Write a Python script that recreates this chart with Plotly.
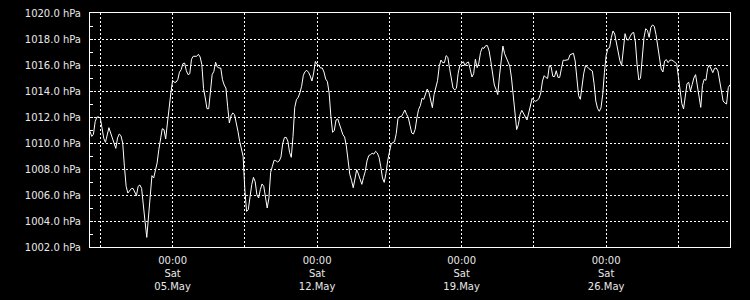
import pandas as pd
import plotly.graph_objects as go

# time axis: 2-hourly samples, 01.May 2018 00:00 .. 01.June 2018 00:00
start_time = "2018-05-01 00:00"
step = "2h"

# pressure readings (hPa), in chronological chunks
pressure_may01_05 = [
    1010.90, 1010.51, 1010.67, 1011.64, 1012.00, 1012.00, 1011.92, 1011.15, 1010.36, 1010.05,
    1010.72, 1011.18, 1010.77, 1010.31, 1009.87, 1009.59, 1010.38, 1010.69, 1010.56, 1010.00,
    1008.21, 1006.67, 1006.15, 1006.33, 1006.49, 1006.51, 1006.21, 1005.95, 1006.67, 1006.77,
    1006.51, 1004.97, 1003.95, 1002.74, 1004.36, 1005.90, 1007.49, 1007.31, 1008.00, 1008.46,
    1009.49, 1010.51, 1011.10, 1011.03, 1010.31, 1011.54, 1012.90, 1013.85, 1014.82, 1014.67,
    1014.67, 1014.87, 1015.44, 1015.64, 1016.10, 1016.15, 1015.56, 1015.26, 1015.33, 1016.44,
    1016.67, 1016.67,
]
pressure_may06_10 = [
    1016.67, 1016.82, 1016.62, 1016.03, 1014.18, 1013.46, 1012.64, 1012.64, 1013.85, 1015.26,
    1015.51, 1016.21, 1015.85, 1015.77, 1015.77, 1014.87, 1014.46, 1014.23, 1012.82, 1011.54,
    1012.10, 1012.31, 1012.18, 1011.59, 1010.90, 1010.13, 1009.49, 1008.97, 1006.41, 1004.74,
    1004.87, 1005.95, 1006.79, 1007.36, 1007.03, 1006.03, 1005.77, 1006.41, 1006.85, 1006.67,
    1005.90, 1005.00, 1005.77, 1007.74, 1008.21, 1008.67, 1008.64, 1008.54, 1008.62, 1008.92,
    1009.95, 1010.41, 1010.44, 1010.15, 1009.28, 1008.90, 1010.51, 1012.74, 1013.33, 1013.51,
    1013.85, 1014.36,
]
pressure_may11_15 = [
    1015.21, 1015.49, 1015.59, 1015.44, 1015.15, 1014.77, 1015.38, 1016.28, 1016.05, 1015.97,
    1015.77, 1015.77, 1015.46, 1014.92, 1014.72, 1013.85, 1012.05, 1010.82, 1010.97, 1011.77,
    1011.85, 1011.38, 1010.97, 1010.64, 1010.46, 1009.77, 1008.69, 1007.59, 1007.13, 1006.56,
    1007.23, 1007.95, 1007.62, 1007.23, 1006.82, 1007.36, 1007.82, 1008.62, 1009.03, 1009.10,
    1009.21, 1009.15, 1009.36, 1009.23, 1008.90, 1008.18, 1007.31, 1006.97, 1007.64, 1008.62,
    1009.36, 1009.92, 1010.03, 1010.10, 1010.72, 1011.87, 1012.03, 1012.03, 1012.26, 1012.54,
    1012.21, 1011.97,
]
pressure_may16_20 = [
    1011.36, 1010.77, 1010.69, 1011.05, 1011.92, 1012.59, 1012.87, 1013.44, 1013.36, 1013.72,
    1014.15, 1013.90, 1013.26, 1012.72, 1013.74, 1014.18, 1014.79, 1015.90, 1016.38, 1016.18,
    1016.18, 1016.72, 1016.59, 1015.74, 1014.92, 1014.23, 1014.08, 1014.21, 1015.36, 1015.97,
    1016.13, 1016.26, 1015.95, 1016.18, 1016.23, 1015.74, 1015.08, 1015.33, 1016.44, 1015.79,
    1016.15, 1016.97, 1017.33, 1017.28, 1017.49, 1017.49, 1017.08, 1016.26, 1015.15, 1014.46,
    1014.13, 1013.72, 1015.15, 1016.56, 1017.46, 1016.87, 1016.54, 1016.33, 1015.92, 1015.00,
    1013.69, 1012.49,
]
pressure_may21_26 = [
    1011.03, 1011.41, 1012.21, 1012.51, 1012.28, 1012.00, 1011.77, 1012.31, 1012.97, 1013.44,
    1013.28, 1013.21, 1013.28, 1013.44, 1013.85, 1014.77, 1015.18, 1015.03, 1014.97, 1015.95,
    1015.87, 1015.13, 1015.10, 1015.56, 1015.05, 1015.05, 1015.72, 1016.36, 1016.36, 1016.36,
    1016.41, 1016.79, 1016.82, 1016.90, 1016.31, 1014.82, 1013.64, 1013.36, 1014.38, 1015.36,
    1015.95, 1015.87, 1015.72, 1015.64, 1015.54, 1014.56, 1013.23, 1012.67, 1012.44, 1012.69,
    1013.72, 1015.41, 1016.72, 1017.26, 1017.33, 1018.10, 1018.62, 1018.38, 1017.69, 1016.97,
    1016.33, 1015.97,
]
pressure_may26_31 = [
    1017.31, 1018.41, 1017.95, 1017.92, 1018.21, 1018.44, 1018.51, 1017.77, 1016.03, 1014.85,
    1015.00, 1016.85, 1018.10, 1018.79, 1018.67, 1018.13, 1018.90, 1019.08, 1018.97, 1018.33,
    1017.38, 1016.28, 1015.69, 1015.46, 1016.31, 1016.41, 1016.18, 1016.36, 1016.38, 1016.31,
    1016.18, 1016.10, 1015.10, 1014.03, 1013.03, 1012.62, 1013.54, 1014.56, 1014.67, 1014.00,
    1014.49, 1015.00, 1015.26, 1014.28, 1013.67, 1012.74, 1014.44, 1014.90, 1014.82, 1015.74,
    1016.00, 1015.64, 1015.41, 1015.74, 1015.77, 1015.54, 1014.74, 1013.77, 1013.23, 1013.08,
    1013.00, 1014.26, 1014.49,
]

# axis ticks
grid_times = ["2018-05-01 12:00", "2018-05-05 00:00", "2018-05-08 12:00", "2018-05-12 00:00",
              "2018-05-15 12:00", "2018-05-19 00:00", "2018-05-22 12:00", "2018-05-26 00:00",
              "2018-05-29 12:00"]
grid_labels = ["", "00:00<br>Sat<br>05.May", "", "00:00<br>Sat<br>12.May", "",
               "00:00<br>Sat<br>19.May", "", "00:00<br>Sat<br>26.May", ""]
y_ticks = [1002, 1004, 1006, 1008, 1010, 1012, 1014, 1016, 1018, 1020]
y_labels = [f"{v:.1f} hPa" for v in y_ticks]
x_range = ["2018-05-01 00:00", "2018-06-01 00:00"]
y_range = [1002, 1020]

pressure = (pressure_may01_05 + pressure_may06_10 + pressure_may11_15 +
            pressure_may16_20 + pressure_may21_26 + pressure_may26_31)
times = pd.date_range(start_time, periods=len(pressure), freq=step)

fg = "#e8e8e8"
fig = go.Figure()
fig.add_trace(go.Scatter(x=times, y=pressure, mode="lines",
                         line=dict(color="white", width=1), hoverinfo="skip"))

fig.update_layout(
    width=750, height=300,
    margin=dict(l=90, r=20, t=13, b=53),
    paper_bgcolor="black", plot_bgcolor="black",
    font=dict(family="DejaVu Sans", size=10, color=fg),
    showlegend=False,
)
fig.update_xaxes(
    range=x_range, tickmode="array", tickvals=grid_times, ticktext=grid_labels,
    showgrid=True, gridcolor="white", gridwidth=1, griddash="2px,2px",
    showline=True, linecolor="white", linewidth=1, mirror=True,
    ticks="", zeroline=False, tickfont=dict(size=10, color=fg),
    ticklabelstandoff=4, automargin=False,
)
fig.update_yaxes(
    range=y_range, tickmode="array", tickvals=y_ticks, ticktext=y_labels,
    showgrid=True, gridcolor="white", gridwidth=1, griddash="2px,2px",
    showline=True, linecolor="white", linewidth=1, mirror=True,
    ticks="inside", ticklen=3, tickcolor="white", zeroline=False,
    ticklabelstandoff=6, automargin=False,
    minor=dict(tickmode="linear", tick0=1003, dtick=2, ticks="inside",
               ticklen=3, tickcolor="white", showgrid=False),
    tickfont=dict(size=10, color=fg),
)

fig.write_html("out.html")
